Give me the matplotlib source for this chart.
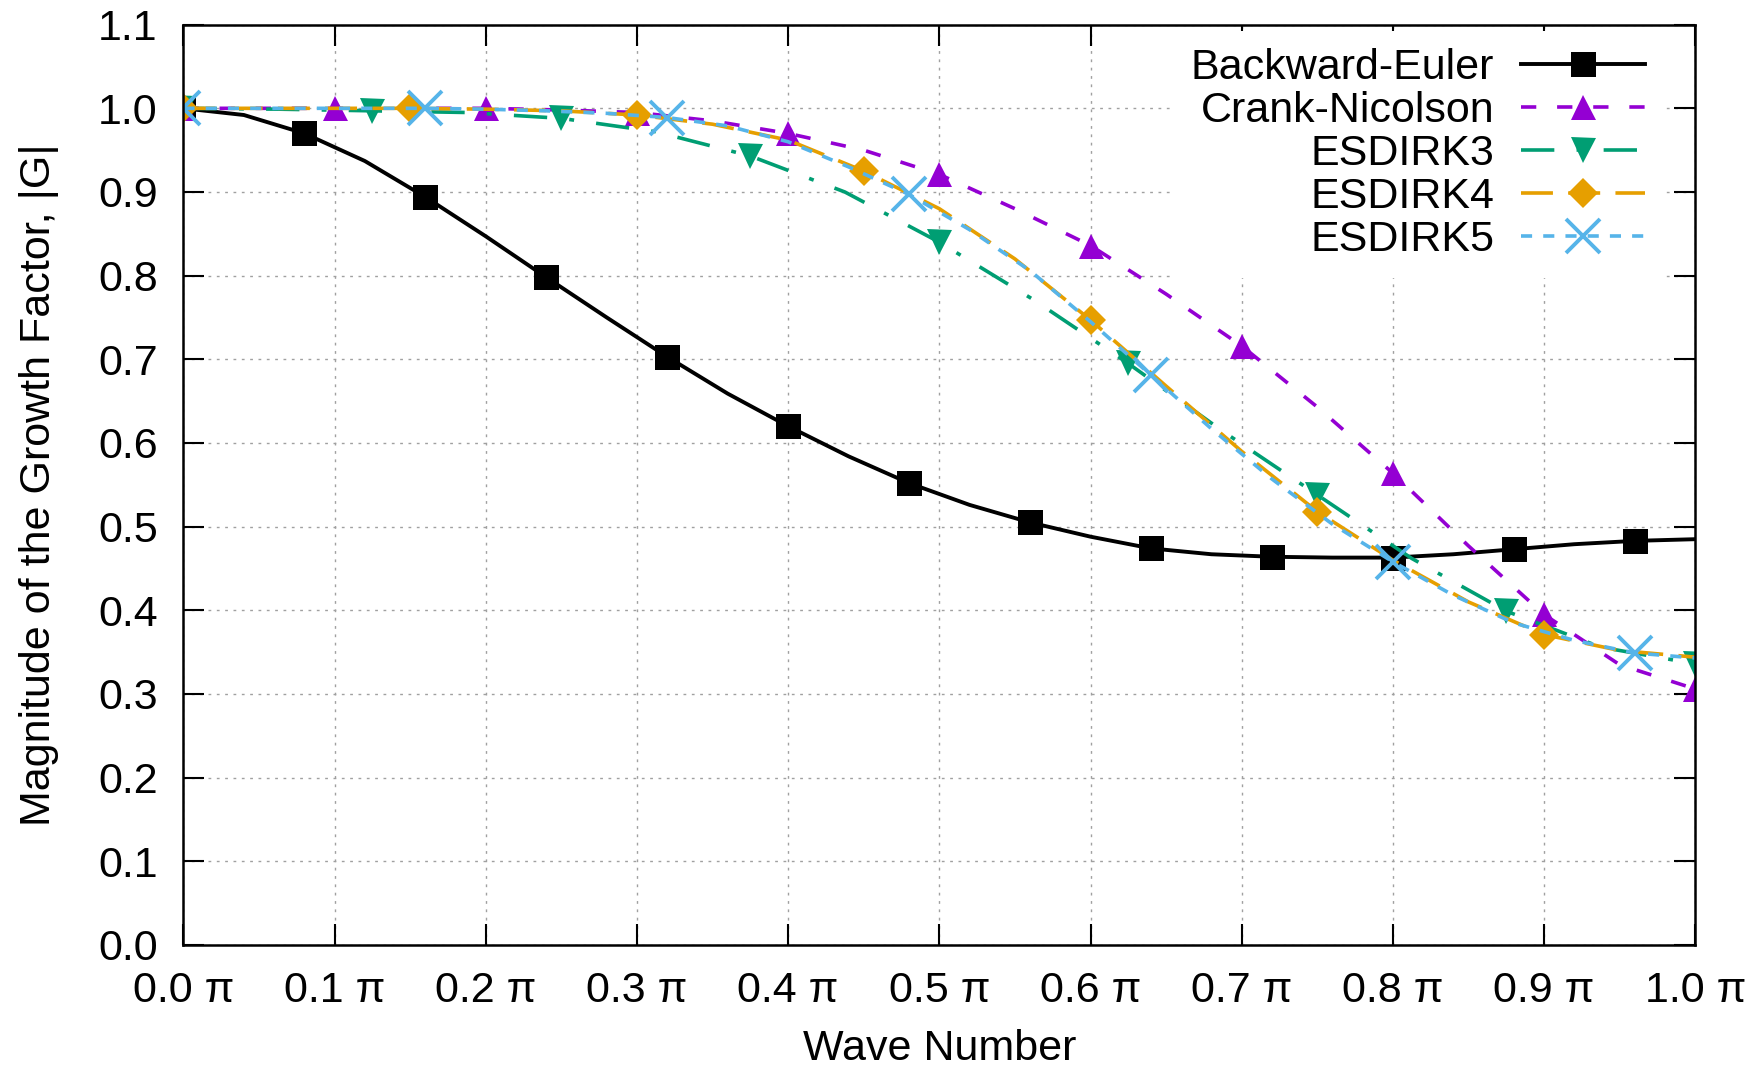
import numpy as np
import matplotlib
matplotlib.use("Agg")
import matplotlib.pyplot as plt

plt.rcParams['font.family'] = ['Liberation Sans', 'DejaVu Sans']
plt.rcParams['lines.scale_dashes'] = False

# wave number in units of pi, |G|
x_be = np.linspace(0, 1, 26)
be = [1.000, 0.992, 0.970, 0.937, 0.894, 0.847, 0.798, 0.750, 0.703, 0.659,
      0.620, 0.584, 0.552, 0.526, 0.505, 0.488, 0.474, 0.467, 0.464, 0.463,
      0.463, 0.467, 0.473, 0.479, 0.483, 0.485]

x_cn = np.linspace(0, 1, 21)
cn = [1.000, 1.000, 1.000, 1.000, 1.000, 0.998, 0.995, 0.985, 0.970, 0.950,
      0.921, 0.880, 0.836, 0.778, 0.716, 0.643, 0.564, 0.477, 0.395, 0.335,
      0.306]

x_e3 = np.linspace(0, 1, 17)
e3 = [1.000, 0.999, 0.997, 0.995, 0.988, 0.972, 0.943, 0.900, 0.840, 0.771,
      0.695, 0.614, 0.538, 0.462, 0.399, 0.356, 0.336]

x_e4 = np.linspace(0, 1, 21)
e4 = [1.000, 1.000, 1.000, 1.000, 0.999, 0.997, 0.992, 0.981, 0.962, 0.925,
      0.880, 0.820, 0.747, 0.668, 0.590, 0.518, 0.460, 0.410, 0.371, 0.352,
      0.344]

x_e5 = np.linspace(0, 1, 26)
e5 = [1.000, 1.000, 1.000, 1.000, 1.000, 0.999, 0.997, 0.994, 0.989, 0.979,
      0.960, 0.930, 0.897, 0.855, 0.806, 0.745, 0.681, 0.617, 0.557, 0.503,
      0.458, 0.418, 0.385, 0.364, 0.349, 0.343]

xticks = np.arange(0, 1.01, 0.1)
yticks = np.arange(0, 1.11, 0.1)

fs = 31
fig = plt.figure(figsize=(17.64, 10.72), dpi=100)
ax = fig.add_subplot(111)
fig.subplots_adjust(left=0.104, right=0.961, top=0.977, bottom=0.1185)

ax.plot(x_be, be, color='black', lw=2.8, marker='s', ms=18, mew=0,
        markevery=2, label='Backward-Euler')
ax.plot(x_cn, cn, color='#9400D3', lw=2.6, dashes=(11, 15), marker='^',
        ms=18, mew=0, markevery=2, label='Crank-Nicolson')
ax.plot(x_e3, e3, color='#009E73', lw=2.6, dashes=(24, 16, 3.5, 16),
        marker='v', ms=18, mew=0, markevery=2, label='ESDIRK3')
ax.plot(x_e4, e4, color='#E69F00', lw=2.6, dashes=(23, 11), marker='D',
        ms=15, mew=0, markevery=3, label='ESDIRK4')
ax.plot(x_e5, e5, color='#56B4E9', lw=2.6, dashes=(8, 8), marker='x',
        ms=25, mew=2.8, markevery=4, label='ESDIRK5')

ax.set_xlim(0, 1)
ax.set_ylim(0, 1.1)
ax.set_xticks(xticks)
ax.set_xticklabels(["%.1f π" % t for t in xticks])
ax.set_yticks(yticks)
ax.set_yticklabels(["%.1f" % t for t in yticks])
ax.tick_params(direction='in', length=15, width=1.5, top=True, right=True,
               pad=18.5, labelsize=fs)
ax.grid(True, color='#a0a0a0', linestyle=(0, (2, 4)), linewidth=1)
for s in ax.spines.values():
    s.set_linewidth(1.8)

ax.set_xlabel('Wave Number', fontsize=fs, labelpad=13)
ax.set_ylabel('Magnitude of the Growth Factor, |G|', fontsize=fs, labelpad=28)

leg = ax.legend(loc='upper right', bbox_to_anchor=(0.978, 0.993),
                markerfirst=False, fontsize=fs, handlelength=2.87,
                handletextpad=0.63, labelspacing=0.07, borderpad=0.4,
                borderaxespad=0, numpoints=1, fancybox=False, framealpha=1)
leg.get_frame().set_linewidth(0)

fig.savefig('out.png', dpi=100)
